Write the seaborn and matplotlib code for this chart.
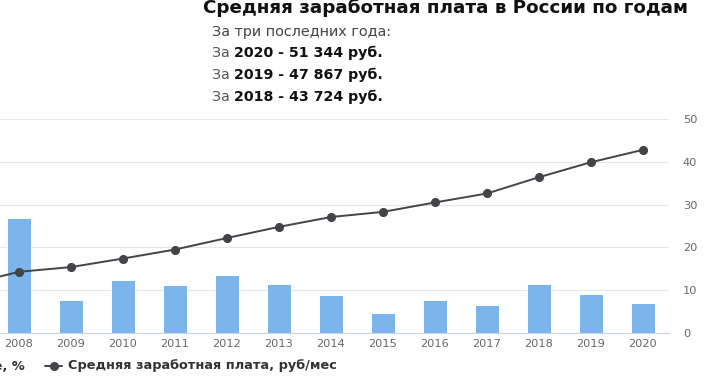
import matplotlib
matplotlib.use("Agg")
import matplotlib.pyplot as plt
import seaborn as sns
import pandas as pd
from matplotlib.lines import Line2D

years = ["2007", "2008", "2009", "2010", "2011", "2012", "2013", "2014",
         "2015", "2016", "2017", "2018", "2019", "2020"]
growth_pct = [27.8, 26.9, 7.6, 12.3, 11.3, 13.6, 11.5, 8.9, 4.6, 7.6, 6.5, 11.4, 9.2, 6.9]
wage_k = [11.3, 14.3, 15.4, 17.4, 19.5, 22.2, 24.8, 27.1, 28.3, 30.5, 32.6, 36.4, 39.9, 42.8]
y_ticks = [0, 10, 20, 30, 40, 50]

title = "Средняя заработная плата в России по годам"
subtitle = "За три последних года:"
recent = [("За ", "2020 - 51 344 руб."), ("За ", "2019 - 47 867 руб."), ("За ", "2018 - 43 724 руб.")]
legend_bar = "Изменение, %"
legend_line = "Средняя заработная плата, руб/мес"

sns.set_theme(style="white")
plt.rcParams['font.family'] = ['DejaVu Sans']

W, H = 710, 377
fig = plt.figure(figsize=(W / 100, H / 100), dpi=100)
fig.patch.set_facecolor("white")

def fx(px):
    return px / W

def fy(py):
    return 1 - py / H

left_px, right_px, top_px, bot_px = -59, 669, 119, 333
ax = fig.add_axes([fx(left_px), fy(bot_px), (right_px - left_px) / W, (bot_px - top_px) / H])

df = pd.DataFrame({"year": years, "growth": growth_pct, "wage": wage_k})

sns.barplot(data=df, x="year", y="growth", order=years, color="#7cb5ec",
            saturation=1, width=0.47, edgecolor="white", linewidth=0.7, ax=ax, zorder=2)
sns.pointplot(data=df, x="year", y="wage", order=years, color="#434348",
              markers="o", markersize=5.5, linewidth=1.4, ax=ax, zorder=3)

ax.set_xlim(-0.5, len(years) - 0.5)
ax.set_ylim(0, 50)
ax.set_yticks(y_ticks)
ax.yaxis.tick_right()
ax.set_xlabel("")
ax.set_ylabel("")
ax.grid(axis="y", color="#e6e6e6", linewidth=0.8, zorder=0)
ax.grid(axis="x", visible=False)
ax.set_axisbelow(True)
for s in ["top", "left", "right"]:
    ax.spines[s].set_visible(False)
ax.spines["bottom"].set_color("#ccd6eb")
ax.spines["bottom"].set_linewidth(0.8)
ax.tick_params(axis="x", length=0, pad=4, labelsize=8.2, labelcolor="#666666")
ax.tick_params(axis="y", length=0, pad=10, labelsize=8.2, labelcolor="#666666")
ax.yaxis.set_tick_params(labelright=True, labelleft=False)
for lbl in ax.get_yticklabels():
    lbl.set_horizontalalignment("left")
# the first category sits outside the visible area; its label is not shown
xt = ax.get_xticklabels()
xt[0].set_visible(False)

# title and header text
fig.text(fx(203), fy(8), title, fontsize=13.2, fontweight="bold", color="#111111",
         ha="left", va="center")
fig.text(fx(212), fy(32), subtitle, fontsize=10.4, color="#444444", ha="left", va="center")

renderer = fig.canvas.get_renderer()
for i, (pre, bold) in enumerate(recent):
    yy = [53, 75, 97][i]
    t = fig.text(fx(212), fy(yy), pre, fontsize=10.2, color="#555555", ha="left", va="center")
    bb = t.get_window_extent(renderer=renderer)
    fig.text(bb.x1 / W, fy(yy), bold, fontsize=10.2, fontweight="bold", color="#111111",
             ha="left", va="center")

# legend (partly cut off at the left, as in the reference)
fig.text(fx(25), fy(366), legend_bar, fontsize=9.3, fontweight="bold", color="#333333",
         ha="right", va="center")
fig.add_artist(Line2D([fx(45), fx(62)], [fy(366), fy(366)], color="#434348",
                      linewidth=1.4, transform=fig.transFigure))
fig.add_artist(Line2D([fx(53.5)], [fy(366)], color="#434348", marker="o",
                      markersize=5.5, transform=fig.transFigure))
fig.text(fx(68), fy(366), legend_line, fontsize=9.3, fontweight="bold", color="#333333",
         ha="left", va="center")

fig.savefig("out.png", dpi=100, facecolor="white")
